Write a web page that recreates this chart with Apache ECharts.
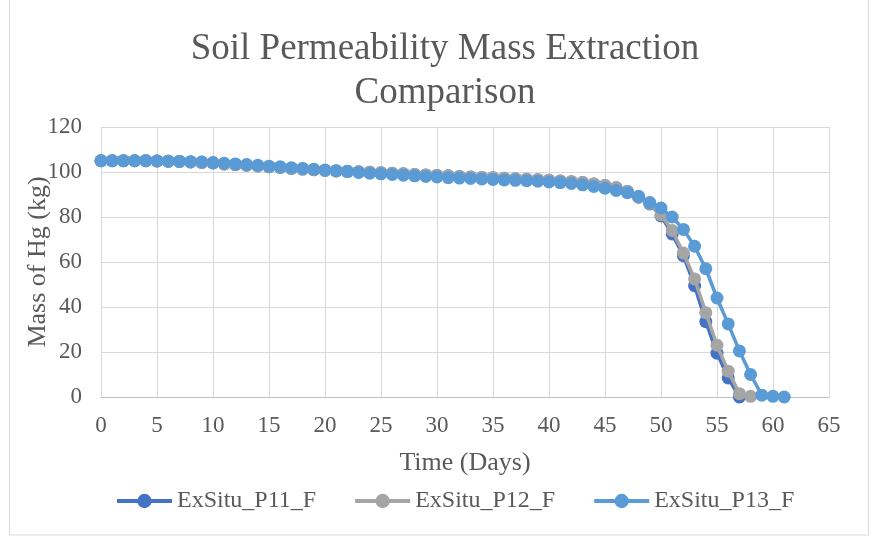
<!DOCTYPE html>
<html>
<head>
<meta charset="utf-8">
<script src="https://cdn.jsdelivr.net/npm/echarts@6/dist/echarts.min.js"></script>
<style>html,body{margin:0;padding:0;background:#fff;}#c{width:872px;height:537px;}</style>
</head>
<body>
<div id="c"></div>
<script>
const seriesNames = ['ExSitu_P11_F', 'ExSitu_P12_F', 'ExSitu_P13_F'];
const xTicks = [0, 5, 10, 15, 20, 25, 30, 35, 40, 45, 50, 55, 60, 65];
const yTicks = [0, 20, 40, 60, 80, 100, 120];

const p11 = [105,105,105,105,105,104.9,104.8,104.7,104.5,104.3,104.0,103.6,103.3,103.0,102.7,102.3,102.0,101.6,101.3,101.0,100.7,100.5,100.3,100.1,99.9,99.7,99.4,99.2,98.9,98.7,98.5,98.3,98.0,97.8,97.6,97.4,97.2,97.0,96.8,96.6,96.3,96.0,95.7,95.3,94.7,94.0,93.0,91.3,88.8,85.8,80.5,72.5,62.8,49.5,33.5,19.5,8.5,0];
const p12 = [105,105,105,105,105,104.9,104.8,104.7,104.5,104.3,104.0,103.6,103.3,103.0,102.7,102.3,102.0,101.6,101.3,101.0,100.7,100.5,100.3,100.1,99.9,99.7,99.4,99.2,98.9,98.7,98.5,98.3,98.0,97.8,97.6,97.4,97.2,97.0,96.8,96.6,96.3,96.0,95.7,95.3,94.7,94.0,93.0,91.4,89.0,86.0,81.0,74.0,64.0,52.5,37.5,23.0,11.5,1.5,0.3];
const p13 = [105,105,105,105,105,104.9,104.8,104.7,104.6,104.4,104.2,103.9,103.6,103.3,103.0,102.6,102.3,101.9,101.6,101.2,100.9,100.6,100.2,99.8,99.5,99.2,98.9,98.6,98.3,98.0,97.8,97.5,97.3,97.1,96.9,96.7,96.5,96.3,96.1,95.9,95.6,95.3,94.9,94.3,93.6,92.8,91.8,90.8,89.2,86.4,84.0,80.0,74.5,67.0,57.0,44.0,32.5,20.5,10.0,0.8,0.3,0];

const allData = [p11, p12, p13];
const colors = ['#4472C4', '#A5A5A5', '#5B9BD5'];
const font = 'Liberation Serif';
const textColor = '#595959';

const chart = echarts.init(document.getElementById('c'));
chart.setOption({
  animation: false,
  backgroundColor: '#fff',
  title: {
    text: 'Soil Permeability Mass Extraction\nComparison',
    left: 445,
    top: 27,
    padding: 0,
    textAlign: 'center',
    textStyle: { fontFamily: font, fontSize: 37, fontWeight: 'normal', color: textColor, lineHeight: 44 }
  },
  graphic: [{
    type: 'rect',
    shape: { x: 9.5, y: -2, width: 859, height: 537 },
    style: { fill: 'none', stroke: '#d9d9d9', lineWidth: 1 },
    silent: true
  }],
  legend: {
    top: 489,
    left: 115,
    padding: 0,
    itemWidth: 55,
    itemHeight: 18,
    itemGap: 37,
    lineStyle: { width: 4 },
    textStyle: { fontFamily: font, fontSize: 24, color: textColor },
    data: seriesNames
  },
  grid: { left: 101, right: 43, top: 127, bottom: 140, containLabel: false },
  xAxis: {
    type: 'value',
    min: xTicks[0], max: xTicks[xTicks.length - 1], interval: 5,
    name: 'Time (Days)',
    nameLocation: 'middle',
    nameGap: 53,
    nameMoveOverlap: false,
    nameTextStyle: { fontFamily: font, fontSize: 26, color: textColor },
    axisLine: { show: true, lineStyle: { color: '#bfbfbf', width: 1 } },
    axisTick: { show: false },
    axisLabel: { fontFamily: font, fontSize: 23, color: textColor, margin: 17 },
    splitLine: { show: true, lineStyle: { color: '#d9d9d9', width: 1 } }
  },
  yAxis: {
    type: 'value',
    min: yTicks[0], max: yTicks[yTicks.length - 1], interval: 20,
    name: 'Mass of Hg (kg)',
    nameLocation: 'middle',
    nameGap: 50,
    nameMoveOverlap: false,
    nameTextStyle: { fontFamily: font, fontSize: 26, color: textColor },
    axisLine: { show: true, lineStyle: { color: '#d9d9d9', width: 1 } },
    axisTick: { show: false },
    axisLabel: { fontFamily: font, fontSize: 23, color: textColor, margin: 19 },
    splitLine: { show: true, lineStyle: { color: '#d9d9d9', width: 1 } }
  },
  series: allData.map((d, i) => ({
    name: seriesNames[i],
    type: 'line',
    data: d.map((v, j) => [j, v]),
    symbol: 'circle',
    symbolSize: 13,
    showSymbol: true,
    lineStyle: { color: colors[i], width: 3.5 },
    itemStyle: { color: colors[i] },
    z: 2 + i
  }))
});
</script>
</body>
</html>
